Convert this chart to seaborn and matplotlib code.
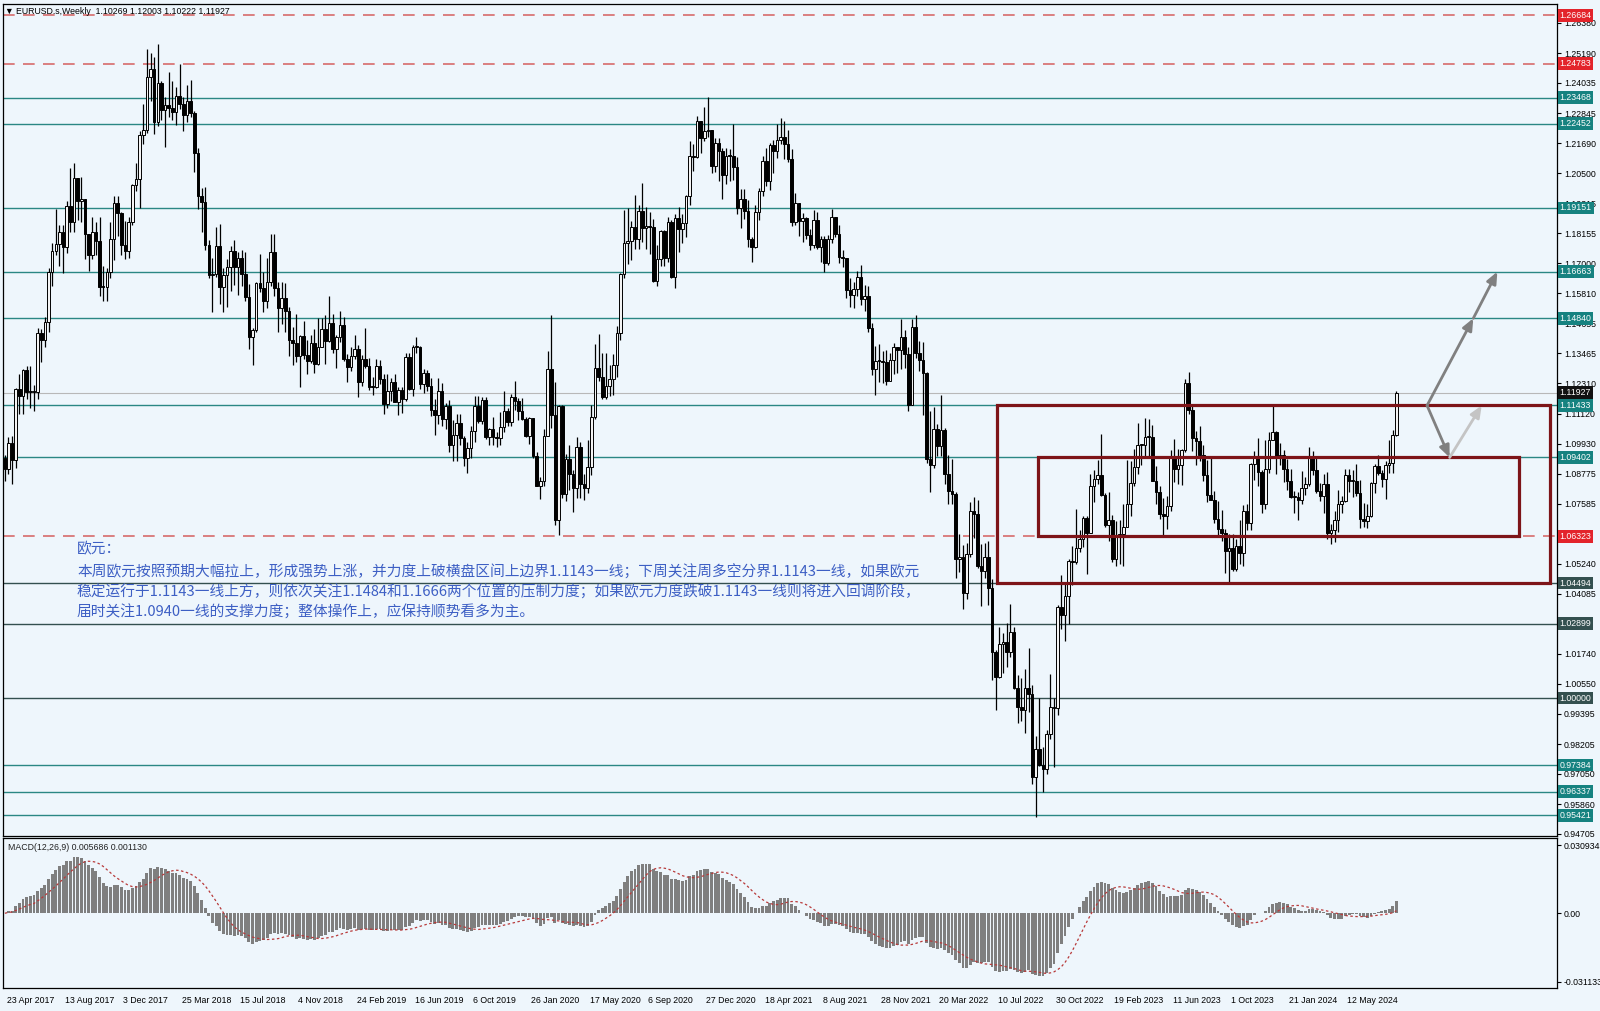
import numpy as np
import pandas as pd
import seaborn as sns
import matplotlib.pyplot as plt
from matplotlib.patches import Rectangle
from matplotlib.transforms import ScaledTranslation

# EURUSD weekly candles, first bar = week of 23 Apr 2017, last = week of 18 Aug 2024
first_open = 1.0937  # open of the first bar (gap week)

close = [
    # 2017
    1.0895, 1.0998, 1.0932, 1.1206, 1.1182, 1.1281, 1.1196, 1.1197, 1.1196, 1.1425,
    1.1400, 1.1470, 1.1665, 1.1748, 1.1775, 1.1821, 1.1761, 1.1923, 1.1860, 1.2034,
    1.1943, 1.1951, 1.1814, 1.1732, 1.1820, 1.1785, 1.1608, 1.1607, 1.1665, 1.1793,
    1.1933, 1.1897, 1.1772, 1.1748, 1.1860, 1.2005, 1.2029,
    # 2018
    1.2199, 1.2221, 1.2426, 1.2459, 1.2252, 1.2405, 1.2297, 1.2316, 1.2306, 1.2290,
    1.2352, 1.2323, 1.2280, 1.2332, 1.2288, 1.2130, 1.1960, 1.1940, 1.1770, 1.1652,
    1.1658, 1.1767, 1.1605, 1.1655, 1.1684, 1.1746, 1.1686, 1.1719, 1.1658, 1.1567,
    1.1410, 1.1440, 1.1622, 1.1603, 1.1553, 1.1624, 1.1745, 1.1604, 1.1525, 1.1562,
    1.1511, 1.1401, 1.1388, 1.1335, 1.1416, 1.1339, 1.1316, 1.1387, 1.1306, 1.1370,
    1.1442, 1.1395,
    # 2019
    1.1467, 1.1365, 1.1409, 1.1457, 1.1325, 1.1295, 1.1335, 1.1365, 1.1236, 1.1325,
    1.1298, 1.1217, 1.1216, 1.1298, 1.1246, 1.1150, 1.1200, 1.1234, 1.1157, 1.1204,
    1.1168, 1.1334, 1.1209, 1.1370, 1.1370, 1.1226, 1.1270, 1.1218, 1.1127, 1.1108,
    1.1200, 1.1091, 1.1143, 1.0989, 1.1029, 1.1073, 1.1016, 1.0940, 1.0978, 1.1042,
    1.1143, 1.1081, 1.1166, 1.1019, 1.1051, 1.1020, 1.1016, 1.1058, 1.1121, 1.1080,
    1.1178, 1.1160,
    # 2020
    1.1120, 1.1090, 1.1025, 1.1093, 1.0945, 1.0830, 1.0847, 1.1026, 1.1284, 1.1105,
    1.0694, 1.1140, 1.0799, 1.0935, 1.0876, 1.0820, 1.0981, 1.0837, 1.0819, 1.0901,
    1.1100, 1.1290, 1.1256, 1.1177, 1.1220, 1.1245, 1.1300, 1.1428, 1.1656, 1.1778,
    1.1787, 1.1842, 1.1794, 1.1905, 1.1838, 1.1846, 1.1840, 1.1631, 1.1716, 1.1826,
    1.1718, 1.1860, 1.1647, 1.1876, 1.1833, 1.1857, 1.1963, 1.2120, 1.2113, 1.2256,
    1.2190, 1.2215,
    # 2021
    1.2221, 1.2080, 1.2170, 1.2138, 1.2045, 1.2118, 1.2117, 1.2075, 1.1915, 1.1950,
    1.1904, 1.1794, 1.1762, 1.1900, 1.1982, 1.2097, 1.2020, 1.2163, 1.2139, 1.2180,
    1.2194, 1.2167, 1.2107, 1.1862, 1.1935, 1.1865, 1.1875, 1.1810, 1.1770, 1.1870,
    1.1762, 1.1795, 1.1700, 1.1795, 1.1880, 1.1812, 1.1725, 1.1720, 1.1595, 1.1575,
    1.1600, 1.1645, 1.1560, 1.1570, 1.1445, 1.1287, 1.1318, 1.1317, 1.1315, 1.1240,
    1.1322, 1.1370,
    # 2022
    1.1360, 1.1412, 1.1344, 1.1145, 1.1450, 1.1350, 1.1322, 1.1270, 1.0933, 1.0912,
    1.1050, 1.0985, 1.1047, 1.0875, 1.0810, 1.0797, 1.0545, 1.0550, 1.0412, 1.0562,
    1.0732, 1.0720, 1.0518, 1.0495, 1.0553, 1.0430, 1.0180, 1.0082, 1.0212, 1.0220,
    1.0180, 1.0260, 1.0040, 0.9966, 0.9955, 1.0040, 1.0015, 0.9690, 0.9800, 0.9740,
    0.9722, 0.9860, 0.9966, 0.9960, 1.0355, 1.0325, 1.0397, 1.0535, 1.0530, 1.0585,
    1.0620, 1.0705,
    # 2023
    1.0645, 1.0830, 1.0855, 1.0870, 1.0795, 1.0677, 1.0695, 1.0545, 1.0635, 1.0640,
    1.0670, 1.0760, 1.0840, 1.0902, 1.0990, 1.0990, 1.1020, 1.1020, 1.0850, 1.0805,
    1.0720, 1.0710, 1.0750, 1.0940, 1.0895, 1.0910, 1.0968, 1.1230, 1.1125, 1.1015,
    1.1005, 1.0948, 1.0870, 1.0795, 1.0775, 1.0700, 1.0660, 1.0645, 1.0573, 1.0587,
    1.0505, 1.0595, 1.0565, 1.0730, 1.0685, 1.0915, 1.0940, 1.0885, 1.0760, 1.0895,
    1.1010, 1.1040,
    # 2024
    1.0940, 1.0950, 1.0895, 1.0850, 1.0785, 1.0785, 1.0775, 1.0820, 1.0838, 1.0940,
    1.0890, 1.0808, 1.0790, 1.0837, 1.0645, 1.0655, 1.0695, 1.0760, 1.0770, 1.0870,
    1.0847, 1.0848, 1.0800, 1.0700, 1.0692, 1.0713, 1.0840, 1.0908, 1.0880, 1.0855,
    1.0910, 1.0918, 1.10269, 1.11927,
]

high = [
    1.0950, 1.1021, 1.1023, 1.1212, 1.1268, 1.1285, 1.1296, 1.1296, 1.1224, 1.1445,
    1.1443, 1.1490, 1.1680, 1.1777, 1.1910, 1.1847, 1.1847, 1.1941, 1.2070, 1.2092,
    1.2034, 1.2036, 1.1951, 1.1794, 1.1880, 1.1860, 1.1880, 1.1688, 1.1680, 1.1861,
    1.1960, 1.1961, 1.1900, 1.1863, 1.1880, 1.2010, 1.2089,
    1.2215, 1.2323, 1.2537, 1.2520, 1.2506, 1.2555, 1.2410, 1.2350, 1.2445, 1.2413,
    1.2388, 1.2477, 1.2347, 1.2396, 1.2414, 1.2295, 1.2150, 1.1995, 1.1996, 1.1790,
    1.1720, 1.1840, 1.1852, 1.1680, 1.1716, 1.1767, 1.1790, 1.1745, 1.1750, 1.1745,
    1.1620, 1.1445, 1.1625, 1.1734, 1.1665, 1.1721, 1.1815, 1.1815, 1.1624, 1.1625,
    1.1622, 1.1530, 1.1450, 1.1500, 1.1420, 1.1472, 1.1400, 1.1420, 1.1442, 1.1486,
    1.1487, 1.1498,
    1.1570, 1.1502, 1.1418, 1.1514, 1.1488, 1.1343, 1.1370, 1.1420, 1.1380, 1.1340,
    1.1448, 1.1327, 1.1255, 1.1324, 1.1323, 1.1265, 1.1265, 1.1251, 1.1265, 1.1216,
    1.1215, 1.1348, 1.1348, 1.1380, 1.1412, 1.1375, 1.1286, 1.1283, 1.1250, 1.1170,
    1.1250, 1.1230, 1.1153, 1.1165, 1.1085, 1.1110, 1.1110, 1.1025, 1.0999, 1.1063,
    1.1180, 1.1179, 1.1175, 1.1176, 1.1057, 1.1097, 1.1040, 1.1116, 1.1200, 1.1135,
    1.1188, 1.1240,
    1.1173, 1.1173, 1.1100, 1.1097, 1.1095, 1.0960, 1.0865, 1.1053, 1.1355, 1.1496,
    1.1237, 1.1147, 1.1147, 1.0955, 1.0990, 1.0890, 1.1019, 1.1000, 1.0875, 1.1008,
    1.1147, 1.1384, 1.1422, 1.1348, 1.1349, 1.1303, 1.1345, 1.1453, 1.1660, 1.1909,
    1.1916, 1.1866, 1.1966, 1.1925, 1.2011, 1.1917, 1.1900, 1.1873, 1.1770, 1.1831,
    1.1830, 1.1880, 1.1870, 1.1890, 1.1920, 1.1893, 1.1965, 1.2177, 1.2167, 1.2273,
    1.2250, 1.2310,
    1.2349, 1.2220, 1.2190, 1.2190, 1.2150, 1.2150, 1.2145, 1.2243, 1.2114, 1.1990,
    1.1990, 1.1945, 1.1800, 1.1927, 1.1995, 1.2117, 1.2150, 1.2170, 1.2181, 1.2245,
    1.2266, 1.2255, 1.2218, 1.2145, 1.1975, 1.1935, 1.1895, 1.1880, 1.1832, 1.1909,
    1.1900, 1.1805, 1.1805, 1.1810, 1.1910, 1.1880, 1.1850, 1.1750, 1.1720, 1.1640,
    1.1625, 1.1670, 1.1692, 1.1616, 1.1610, 1.1465, 1.1374, 1.1383, 1.1355, 1.1360,
    1.1350, 1.1386,
    1.1368, 1.1482, 1.1440, 1.1370, 1.1483, 1.1495, 1.1395, 1.1390, 1.1275, 1.1120,
    1.1137, 1.1070, 1.1185, 1.1055, 1.0950, 1.0936, 1.0805, 1.0642, 1.0600, 1.0606,
    1.0765, 1.0787, 1.0773, 1.0601, 1.0606, 1.0615, 1.0465, 1.0187, 1.0278, 1.0254,
    1.0294, 1.0368, 1.0276, 1.0090, 1.0080, 1.0113, 1.0197, 1.0050, 0.9852, 0.9999,
    0.9810, 0.9875, 1.0094, 1.0000, 1.0365, 1.0481, 1.0448, 1.0545, 1.0595, 1.0737,
    1.0655, 1.0713,
    1.0713, 1.0875, 1.0890, 1.0930, 1.1033, 1.0800, 1.0805, 1.0715, 1.0691, 1.0695,
    1.0760, 1.0930, 1.0925, 1.0973, 1.1075, 1.0992, 1.1095, 1.1091, 1.1068, 1.0905,
    1.0830, 1.0780, 1.0790, 1.0970, 1.1012, 1.0975, 1.0975, 1.1245, 1.1276, 1.1150,
    1.1045, 1.1065, 1.0990, 1.0930, 1.0945, 1.0810, 1.0770, 1.0735, 1.0660, 1.0640,
    1.0640, 1.0620, 1.0695, 1.0755, 1.0757, 1.0920, 1.0965, 1.1017, 1.0893, 1.1010,
    1.1040, 1.1140,
    1.1045, 1.0998, 1.0970, 1.0933, 1.0895, 1.0810, 1.0805, 1.0888, 1.0865, 1.0980,
    1.0964, 1.0942, 1.0840, 1.0876, 1.0885, 1.0680, 1.0730, 1.0812, 1.0790, 1.0895,
    1.0895, 1.0890, 1.0915, 1.0852, 1.0762, 1.0760, 1.0845, 1.0915, 1.0948, 1.0890,
    1.0926, 1.1009, 1.1047, 1.12003,
]

low = [
    1.0850, 1.0874, 1.0838, 1.0900, 1.1110, 1.1110, 1.1170, 1.1132, 1.1120, 1.1170,
    1.1313, 1.1370, 1.1430, 1.1612, 1.1730, 1.1688, 1.1662, 1.1740, 1.1823, 1.1823,
    1.1869, 1.1862, 1.1717, 1.1669, 1.1714, 1.1730, 1.1573, 1.1553, 1.1553, 1.1640,
    1.1710, 1.1807, 1.1730, 1.1717, 1.1720, 1.1850, 1.1980,
    1.1915, 1.2165, 1.2210, 1.2335, 1.2205, 1.2235, 1.2260, 1.2155, 1.2270, 1.2260,
    1.2240, 1.2300, 1.2215, 1.2250, 1.2270, 1.2055, 1.1910, 1.1822, 1.1750, 1.1640,
    1.1510, 1.1645, 1.1541, 1.1508, 1.1527, 1.1590, 1.1613, 1.1575, 1.1610, 1.1550,
    1.1365, 1.1301, 1.1430, 1.1586, 1.1510, 1.1525, 1.1612, 1.1570, 1.1432, 1.1460,
    1.1432, 1.1336, 1.1302, 1.1313, 1.1216, 1.1325, 1.1267, 1.1310, 1.1269, 1.1301,
    1.1370, 1.1307,
    1.1390, 1.1350, 1.1290, 1.1390, 1.1318, 1.1234, 1.1280, 1.1325, 1.1176, 1.1220,
    1.1290, 1.1205, 1.1183, 1.1210, 1.1227, 1.1112, 1.1135, 1.1160, 1.1155, 1.1105,
    1.1115, 1.1160, 1.1202, 1.1180, 1.1350, 1.1207, 1.1193, 1.1200, 1.1101, 1.1027,
    1.1070, 1.1065, 1.1052, 1.0963, 1.0926, 1.0927, 1.0990, 1.0905, 1.0879, 1.0940,
    1.1000, 1.1073, 1.1070, 1.1012, 1.0989, 1.0990, 1.0981, 1.0990, 1.1040, 1.1065,
    1.1065, 1.1125,
    1.1086, 1.1085, 1.1020, 1.0992, 1.0940, 1.0827, 1.0778, 1.0830, 1.1023, 1.1055,
    1.0676, 1.0636, 1.0780, 1.0769, 1.0812, 1.0727, 1.0780, 1.0783, 1.0774, 1.0800,
    1.0870, 1.1090, 1.1240, 1.1168, 1.1168, 1.1180, 1.1185, 1.1255, 1.1400, 1.1640,
    1.1695, 1.1710, 1.1754, 1.1753, 1.1782, 1.1753, 1.1737, 1.1626, 1.1612, 1.1690,
    1.1690, 1.1703, 1.1640, 1.1603, 1.1745, 1.1780, 1.1800, 1.1925, 1.2058, 1.2110,
    1.2130, 1.2175,
    1.2193, 1.2053, 1.2055, 1.2020, 1.1952, 1.2010, 1.2022, 1.2025, 1.1893, 1.1835,
    1.1874, 1.1762, 1.1704, 1.1760, 1.1868, 1.1960, 1.2000, 1.1985, 1.2051, 1.2110,
    1.2165, 1.2105, 1.2095, 1.1846, 1.1848, 1.1807, 1.1782, 1.1792, 1.1752, 1.1760,
    1.1754, 1.1705, 1.1664, 1.1693, 1.1780, 1.1800, 1.1700, 1.1683, 1.1563, 1.1530,
    1.1525, 1.1570, 1.1535, 1.1513, 1.1430, 1.1263, 1.1186, 1.1235, 1.1230, 1.1222,
    1.1265, 1.1268,
    1.1272, 1.1285, 1.1290, 1.1121, 1.1145, 1.1330, 1.1280, 1.1106, 1.0920, 1.0806,
    1.0900, 1.0945, 1.0945, 1.0836, 1.0757, 1.0758, 1.0470, 1.0491, 1.0349, 1.0389,
    1.0550, 1.0627, 1.0510, 1.0360, 1.0470, 1.0365, 1.0072, 0.9952, 1.0080, 1.0097,
    1.0123, 1.0160, 1.0034, 0.9901, 0.9910, 0.9864, 0.9945, 0.9666, 0.9536, 0.9736,
    0.9632, 0.9705, 0.9840, 0.9730, 0.9935, 1.0270, 1.0222, 1.0290, 1.0443, 1.0525,
    1.0570, 1.0590,
    1.0483, 1.0644, 1.0766, 1.0835, 1.0790, 1.0669, 1.0613, 1.0533, 1.0516, 1.0525,
    1.0516, 1.0712, 1.0713, 1.0830, 1.0876, 1.0910, 1.0940, 1.0940, 1.0850, 1.0760,
    1.0700, 1.0635, 1.0660, 1.0730, 1.0844, 1.0835, 1.0832, 1.0960, 1.1110, 1.0965,
    1.0912, 1.0925, 1.0850, 1.0765, 1.0775, 1.0686, 1.0630, 1.0615, 1.0488, 1.0448,
    1.0496, 1.0495, 1.0522, 1.0516, 1.0656, 1.0655, 1.0852, 1.0830, 1.0723, 1.0740,
    1.0880, 1.1010,
    1.0877, 1.0910, 1.0844, 1.0813, 1.0780, 1.0722, 1.0695, 1.0760, 1.0795, 1.0830,
    1.0872, 1.0800, 1.0772, 1.0725, 1.0622, 1.0601, 1.0610, 1.0650, 1.0725, 1.0765,
    1.0805, 1.0787, 1.0790, 1.0666, 1.0670, 1.0666, 1.0708, 1.0800, 1.0870, 1.0825,
    1.0777, 1.0880, 1.0880, 1.10222,
]

# horizontal levels drawn on the chart
red_levels = [1.26684, 1.24783, 1.06323]
teal_levels = [1.23468, 1.22452, 1.19151, 1.16663, 1.14840, 1.11433, 1.09402,
               0.97384, 0.96337, 0.95421]
dark_levels = [1.04494, 1.02899, 1.00000]
last_price = 1.11927

# price scale (the two values fully covered by level tags are left out)
price_ticks = [1.26380, 1.25190, 1.24035, 1.22845, 1.21690, 1.20500, 1.19315,
               1.18155, 1.17000, 1.15810, 1.14655, 1.13465, 1.12310, 1.11120,
               1.09930, 1.08775, 1.07585, 1.05240, 1.04085,
               1.01740, 1.00550, 0.99395, 0.98205, 0.97050, 0.95860, 0.94705]
macd_ticks = [0.030934, 0.0, -0.031133]
macd_tick_labels = ['0.030934', '0.00', '-0.031133']
date_labels = ['23 Apr 2017', '13 Aug 2017', '3 Dec 2017', '25 Mar 2018', '15 Jul 2018',
               '4 Nov 2018', '24 Feb 2019', '16 Jun 2019', '6 Oct 2019', '26 Jan 2020',
               '17 May 2020', '6 Sep 2020', '27 Dec 2020', '18 Apr 2021', '8 Aug 2021',
               '28 Nov 2021', '20 Mar 2022', '10 Jul 2022', '30 Oct 2022', '19 Feb 2023',
               '11 Jun 2023', '1 Oct 2023', '21 Jan 2024', '12 May 2024']
date_step = 16  # weeks between date labels

# consolidation boxes (week from, week to, price low, price high)
boxes = [(272.4, 424.1, 1.04494, 1.11433), (283.6, 415.6, 1.06323, 1.09402)]
# scenario arrows (week, price) -> (week, price)
arrows_dark = [((390.4, 1.11433), (403.1, 1.14840)),
               ((403.1, 1.14840), (409.7, 1.16663)),
               ((390.4, 1.11433), (396.6, 1.09402))]
arrows_light = [((396.6, 1.09402), (405.4, 1.11433))]

header = '\u25bc EURUSD.s,Weekly  1.10269 1.12003 1.10222 1.11927'
macd_header = 'MACD(12,26,9) 0.005686 0.001130'
note_lines = [
    '欧元：',
    '本周欧元按照预期大幅拉上，形成强势上涨，并力度上破横盘区间上边界1.1143一线；下周关注周多空分界1.1143一线，如果欧元',
    '稳定运行于1.1143一线上方，则依次关注1.1484和1.1666两个位置的压制力度；如果欧元力度跌破1.1143一线则将进入回调阶段，',
    '届时关注1.0940一线的支撑力度；整体操作上，应保持顺势看多为主。',
]

# ---------------------------------------------------------------------------
bg = '#eef6fc'
teal = '#2a8784'
teal_box = '#168280'
dark = '#34504f'
red_line = '#d76b6b'
red_box = '#e3242b'

sns.set_style('white')
plt.rcParams['font.family'] = ['Liberation Sans', 'DejaVu Sans']

W, H = 1600, 1011
fig = plt.figure(figsize=(W / 100, H / 100), dpi=100, facecolor=bg)
ax = fig.add_axes([3 / W, 1 - 836 / H, 1554 / W, 832 / H], facecolor=bg)
axm = fig.add_axes([3 / W, 1 - 988 / H, 1554 / W, 150 / H], facecolor=bg)

c = np.array(close)
o = np.r_[first_open, c[:-1]]
h = np.maximum(np.array(high), np.maximum(o, c))
l = np.minimum(np.array(low), np.minimum(o, c))
x = np.arange(len(c))
up = c >= o

# candles
ax.vlines(x, l, h, color='black', lw=0.9, zorder=3)
bottom = np.minimum(o, c)
height = np.maximum(np.abs(c - o), 0.0004)
ax.bar(x[up], height[up], bottom=bottom[up], width=0.72, color='#f4f4f4',
       edgecolor='black', linewidth=0.7, zorder=4)
ax.bar(x[~up], height[~up], bottom=bottom[~up], width=0.72, color='black',
       edgecolor='black', linewidth=0.7, zorder=4)

# levels + their price tags
ytr = ax.get_yaxis_transform()


def tag(level, color):
    ax.text(1.0016, level, f'{level:.5f}', transform=ytr, color='white', fontsize=6.3,
            va='center', ha='left', clip_on=False, zorder=20,
            bbox=dict(boxstyle='square,pad=0.22', fc=color, ec='none'))


for lv in red_levels:
    ax.axhline(lv, color=red_line, lw=1.2, ls=(0, (7, 5)), zorder=2)
    tag(lv, red_box)
for lv in teal_levels:
    ax.axhline(lv, color=teal, lw=1.0, zorder=2)
    tag(lv, teal_box)
for lv in dark_levels:
    ax.axhline(lv, color=dark, lw=1.0, zorder=2)
    tag(lv, dark)
ax.axhline(last_price, color='#b8b8b8', lw=0.8, zorder=2)
tag(last_price, '#111111')

# boxes and arrows
for x0, x1, y0, y1 in boxes:
    ax.add_patch(Rectangle((x0, y0), x1 - x0, y1 - y0, fill=False,
                           ec='#7d1418', lw=2.3, zorder=6))
for start, end in arrows_dark:
    ax.annotate('', xy=end, xytext=start, zorder=7,
                arrowprops=dict(arrowstyle='-|>,head_length=0.7,head_width=0.3',
                                color='#808080', lw=2.0, shrinkA=0, shrinkB=0))
for start, end in arrows_light:
    ax.annotate('', xy=end, xytext=start, zorder=7,
                arrowprops=dict(arrowstyle='-|>,head_length=0.7,head_width=0.3',
                                color='#c4c4c4', lw=2.0, shrinkA=0, shrinkB=0))

xmax = -0.5 + 1554 / 3.643
ax.set_xlim(-0.5, xmax)
ax.set_ylim(0.94610, 1.27122)
ax.yaxis.tick_right()
ax.set_yticks(price_ticks)
ax.set_yticklabels([f'{t:.5f}' for t in price_ticks])
ax.tick_params(axis='y', length=3, width=0.8, pad=2, labelsize=6.3, colors='black')
ax.tick_params(axis='x', bottom=False, labelbottom=False)
for sp in ax.spines.values():
    sp.set_color('black')
    sp.set_linewidth(0.9)

# MACD panel
s = pd.Series(c)
macd = s.ewm(span=12, adjust=False).mean() - s.ewm(span=26, adjust=False).mean()
signal = macd.rolling(9, min_periods=1).mean()
axm.bar(x, macd.values, width=0.78, color='#7f7f7f', linewidth=0, zorder=2)
sns.lineplot(x=x, y=signal.values, ax=axm, color='#b83a3a', lw=0.9, zorder=3)
axm.lines[-1].set_linestyle((0, (2, 2)))
axm.set_xlim(-0.5, xmax)
axm.set_ylim(-0.033852, 0.034106)
axm.yaxis.tick_right()
axm.set_yticks(macd_ticks)
axm.set_yticklabels(macd_tick_labels)
axm.tick_params(axis='y', length=3, width=0.8, pad=2, labelsize=6.3, colors='black')
axm.set_xticks(range(0, date_step * len(date_labels), date_step))
axm.set_xticklabels(date_labels, ha='left')
axm.tick_params(axis='x', length=4, width=0.8, pad=1.5, labelsize=6.3, colors='black')
shift = ScaledTranslation(2 / 100, 0, fig.dpi_scale_trans)
for lbl in axm.get_xticklabels():
    lbl.set_transform(lbl.get_transform() + shift)
axm.set_xlabel('')
axm.set_ylabel('')
for sp in axm.spines.values():
    sp.set_color('black')
    sp.set_linewidth(0.9)

# texts
fig.text(5 / W, 1 - 12 / H, header, fontsize=6.3, va='center', color='black')
fig.text(8 / W, 1 - 847 / H, macd_header, fontsize=6.3, va='center', color='#222222')
cjk = ['Noto Sans CJK SC', 'DejaVu Sans']
for yy, line in zip([549, 572, 592, 612], note_lines):
    fig.text(77 / W, 1 - yy / H, line, family=cjk, fontsize=10.6,
             color='#3d5fc4', va='center')

fig.savefig('out.png', dpi=100, facecolor=bg)
